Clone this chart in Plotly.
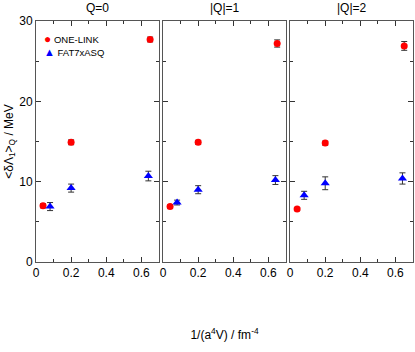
import plotly.graph_objects as go
from plotly.subplots import make_subplots

# data per panel: x positions (1/(a^4 V)), values and errors
panels = ["Q=0", "|Q|=1", "|Q|=2"]
series = ["ONE-LINK", "FAT7xASQ"]

onelink_x = [0.04, 0.20, 0.65]
fat7_x = [0.08, 0.20, 0.64]

onelink_y = [[7.0, 14.9, 27.7], [6.9, 14.9, 27.2], [6.6, 14.8, 26.9]]
onelink_err = [[0.25, 0.3, 0.3], [0.2, 0.25, 0.45], [0.2, 0.25, 0.55]]
fat7_y = [[6.9, 9.2, 10.7], [7.4, 9.0, 10.2], [8.3, 9.8, 10.4]]
fat7_err = [[0.5, 0.5, 0.6], [0.3, 0.5, 0.55], [0.5, 0.8, 0.7]]

fig = make_subplots(rows=1, cols=3, shared_yaxes=True, horizontal_spacing=0.011,
                    subplot_titles=panels)

for i in range(3):
    fig.add_trace(go.Scatter(x=onelink_x, y=onelink_y[i], mode='markers', name=series[0],
                             marker=dict(symbol='circle', color='#ff0000', size=7),
                             error_y=dict(type='data', array=onelink_err[i], color='#333', thickness=1, width=3),
                             showlegend=False), row=1, col=i + 1)
    fig.add_trace(go.Scatter(x=fat7_x, y=fat7_y[i], mode='markers', name=series[1],
                             marker=dict(symbol='triangle-up', color='#0000ff', size=8),
                             error_y=dict(type='data', array=fat7_err[i], color='#333', thickness=1, width=3),
                             showlegend=False), row=1, col=i + 1)

# panel positions
fig.update_layout(xaxis=dict(domain=[0, 0.326]), xaxis2=dict(domain=[0.337, 0.663]),
                  xaxis3=dict(domain=[0.674, 1]))
for a, xc in zip(fig.layout.annotations, [0.163, 0.5, 0.837]):
    a.x = xc
    a.font = dict(size=12, color='black')
    a.yshift = 4

# compact legend as text
fig.add_annotation(text="<span style='color:#ff0000;font-size:12px'>●</span> " + series[0],
                   xref='x', yref='y', x=0.035, y=27.8, xanchor='left', yanchor='middle',
                   showarrow=False, font=dict(size=9.5))
fig.add_annotation(text="<span style='color:#0000ff;font-size:11px'>▲</span> " + series[1],
                   xref='x', yref='y', x=0.035, y=26.2, xanchor='left', yanchor='middle',
                   showarrow=False, font=dict(size=9.5))

fig.update_xaxes(range=[0, 0.7], tickvals=[0, 0.2, 0.4, 0.6], ticktext=["0", "0.2", "0.4", "0.6"],
                 ticks='inside', ticklen=5, tickcolor='#333', showgrid=False, zeroline=False,
                 showline=True, linecolor='#555', linewidth=1, mirror='ticks',
                 minor=dict(tickvals=[0.1, 0.3, 0.5], ticks='inside', ticklen=3, tickcolor='#333'))
fig.update_yaxes(range=[0, 30], tickvals=[0, 10, 20, 30], ticks='inside', ticklen=5, tickcolor='#333',
                 showgrid=False, zeroline=False, showline=True, linecolor='#555', linewidth=1,
                 mirror='ticks',
                 minor=dict(tickvals=[5, 15, 25], ticks='inside', ticklen=3, tickcolor='#333'))
fig.update_yaxes(title_text="<δΛ<sub>1</sub>><sub>Q</sub> / MeV", title_standoff=3,
                 title_font=dict(size=12), row=1, col=1)
fig.update_xaxes(title_text="1/(a<sup>4</sup>V) / fm<sup>-4</sup>", title_standoff=51,
                 title_font=dict(size=12), row=1, col=2)

fig.update_layout(width=415, height=352, margin=dict(l=36, r=2, t=21, b=90),
                  plot_bgcolor='white', paper_bgcolor='white',
                  font=dict(family='Liberation Sans, Arial', size=12, color='black'),
                  showlegend=False)

fig.write_html("out.html", config={'displayModeBar': False},
               post_script="document.body.style.margin='0';")
